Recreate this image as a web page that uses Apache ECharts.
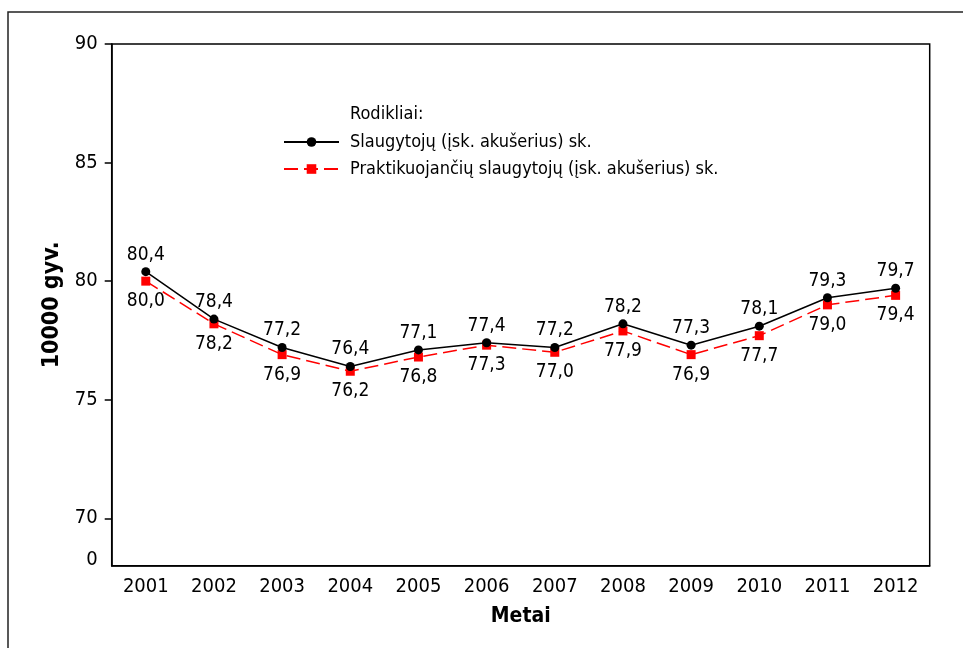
<!DOCTYPE html>
<html>
<head>
<meta charset="utf-8">
<script src="https://cdn.jsdelivr.net/npm/echarts@6/dist/echarts.min.js"></script>
<style>
html,body{margin:0;padding:0;background:#fff;}
#chart{width:963px;height:648px;}
</style>
</head>
<body>
<div id="chart"></div>
<script>
const years = ['2001','2002','2003','2004','2005','2006','2007','2008','2009','2010','2011','2012'];
const nurses = [80.4, 78.4, 77.2, 76.4, 77.1, 77.4, 77.2, 78.2, 77.3, 78.1, 79.3, 79.7];
const practicingNurses = [80.0, 78.2, 76.9, 76.2, 76.8, 77.3, 77.0, 77.9, 76.9, 77.7, 79.0, 79.4];
const seriesNames = ['Slaugytojų (įsk. akušerius) sk.', 'Praktikuojančių slaugytojų (įsk. akušerius) sk.'];
const yTicks = [70, 75, 80, 85, 90];
const yBreakLabelValue = 68.25; // position of the "0" label below the axis break
const legendTitle = 'Rodikliai:';
const yName = '10000 gyv.';
const xName = 'Metai';

const FONT = "'DejaVu Sans Condensed', 'DejaVu Sans', sans-serif";
const fmt = v => v.toFixed(1).replace('.', ',');

const chart = echarts.init(document.getElementById('chart'), null, {renderer: 'canvas'});
chart.setOption({
  animation: false,
  backgroundColor: '#fff',
  textStyle: {fontFamily: FONT, color: '#000'},
  grid: {left: 111.7, top: 44, right: 33.3, bottom: 82.3, show: true, borderColor: '#000', borderWidth: 1.5, containLabel: false},
  graphic: [
    {type: 'rect', shape: {x: 8, y: 12, width: 1100, height: 800}, style: {fill: 'none', stroke: '#222', lineWidth: 1.5}, z: -1},
    {type: 'text', left: 350, top: 105, style: {text: legendTitle, font: "18px " + FONT, fill: '#000'}}
  ],
  legend: {
    orient: 'vertical', left: 283, top: 133, padding: 0, itemGap: 9, itemWidth: 55, itemHeight: 12,
    textStyle: {fontSize: 18, fontFamily: FONT, color: '#000', padding: [0,0,0,6]},
    data: seriesNames
  },
  xAxis: {
    type: 'category', data: years, boundaryGap: true,
    name: xName, nameLocation: 'middle', nameGap: 40,
    nameTextStyle: {fontSize: 21, fontWeight: 'bold', fontFamily: FONT, color: '#000'},
    axisLine: {lineStyle: {color: '#000', width: 1.5}},
    axisTick: {alignWithLabel: true, length: 6, lineStyle: {color: '#000', width: 1.5}},
    axisLabel: {fontSize: 20, color: '#000', margin: 11, fontFamily: FONT},
    splitLine: {show: false}
  },
  yAxis: {
    type: 'value', min: 68, max: 90,
    name: yName, nameLocation: 'middle', nameGap: 41,
    nameTextStyle: {fontSize: 23, fontWeight: 'bold', fontFamily: FONT, color: '#000'},
    axisLine: {show: true, lineStyle: {color: '#000', width: 1.5}},
    axisTick: {show: true, length: 7, customValues: yTicks, lineStyle: {color: '#000', width: 1.5}},
    axisLabel: {fontSize: 20, color: '#000', margin: 14, fontFamily: FONT,
      customValues: [yBreakLabelValue].concat(yTicks),
      formatter: v => (v < 69 ? '0' : String(Math.round(v)))},
    splitLine: {show: false}
  },
  series: [
    {
      name: seriesNames[0], type: 'line', data: nurses,
      symbol: 'circle', symbolSize: 9,
      itemStyle: {color: '#000'},
      lineStyle: {color: '#000', width: 1.5, type: 'solid'},
      label: {show: true, position: 'top', distance: 3, fontSize: 19, color: '#000', fontFamily: FONT, formatter: p => fmt(p.value)},
      z: 3
    },
    {
      name: seriesNames[1], type: 'line', data: practicingNurses,
      symbol: 'rect', symbolSize: 9,
      itemStyle: {color: '#ff0000'},
      lineStyle: {color: '#ff0000', width: 1.5, type: [14, 6]},
      label: {show: true, position: 'bottom', distance: 6, fontSize: 19, color: '#000', fontFamily: FONT, formatter: p => fmt(p.value)},
      z: 2
    }
  ]
});
</script>
</body>
</html>
